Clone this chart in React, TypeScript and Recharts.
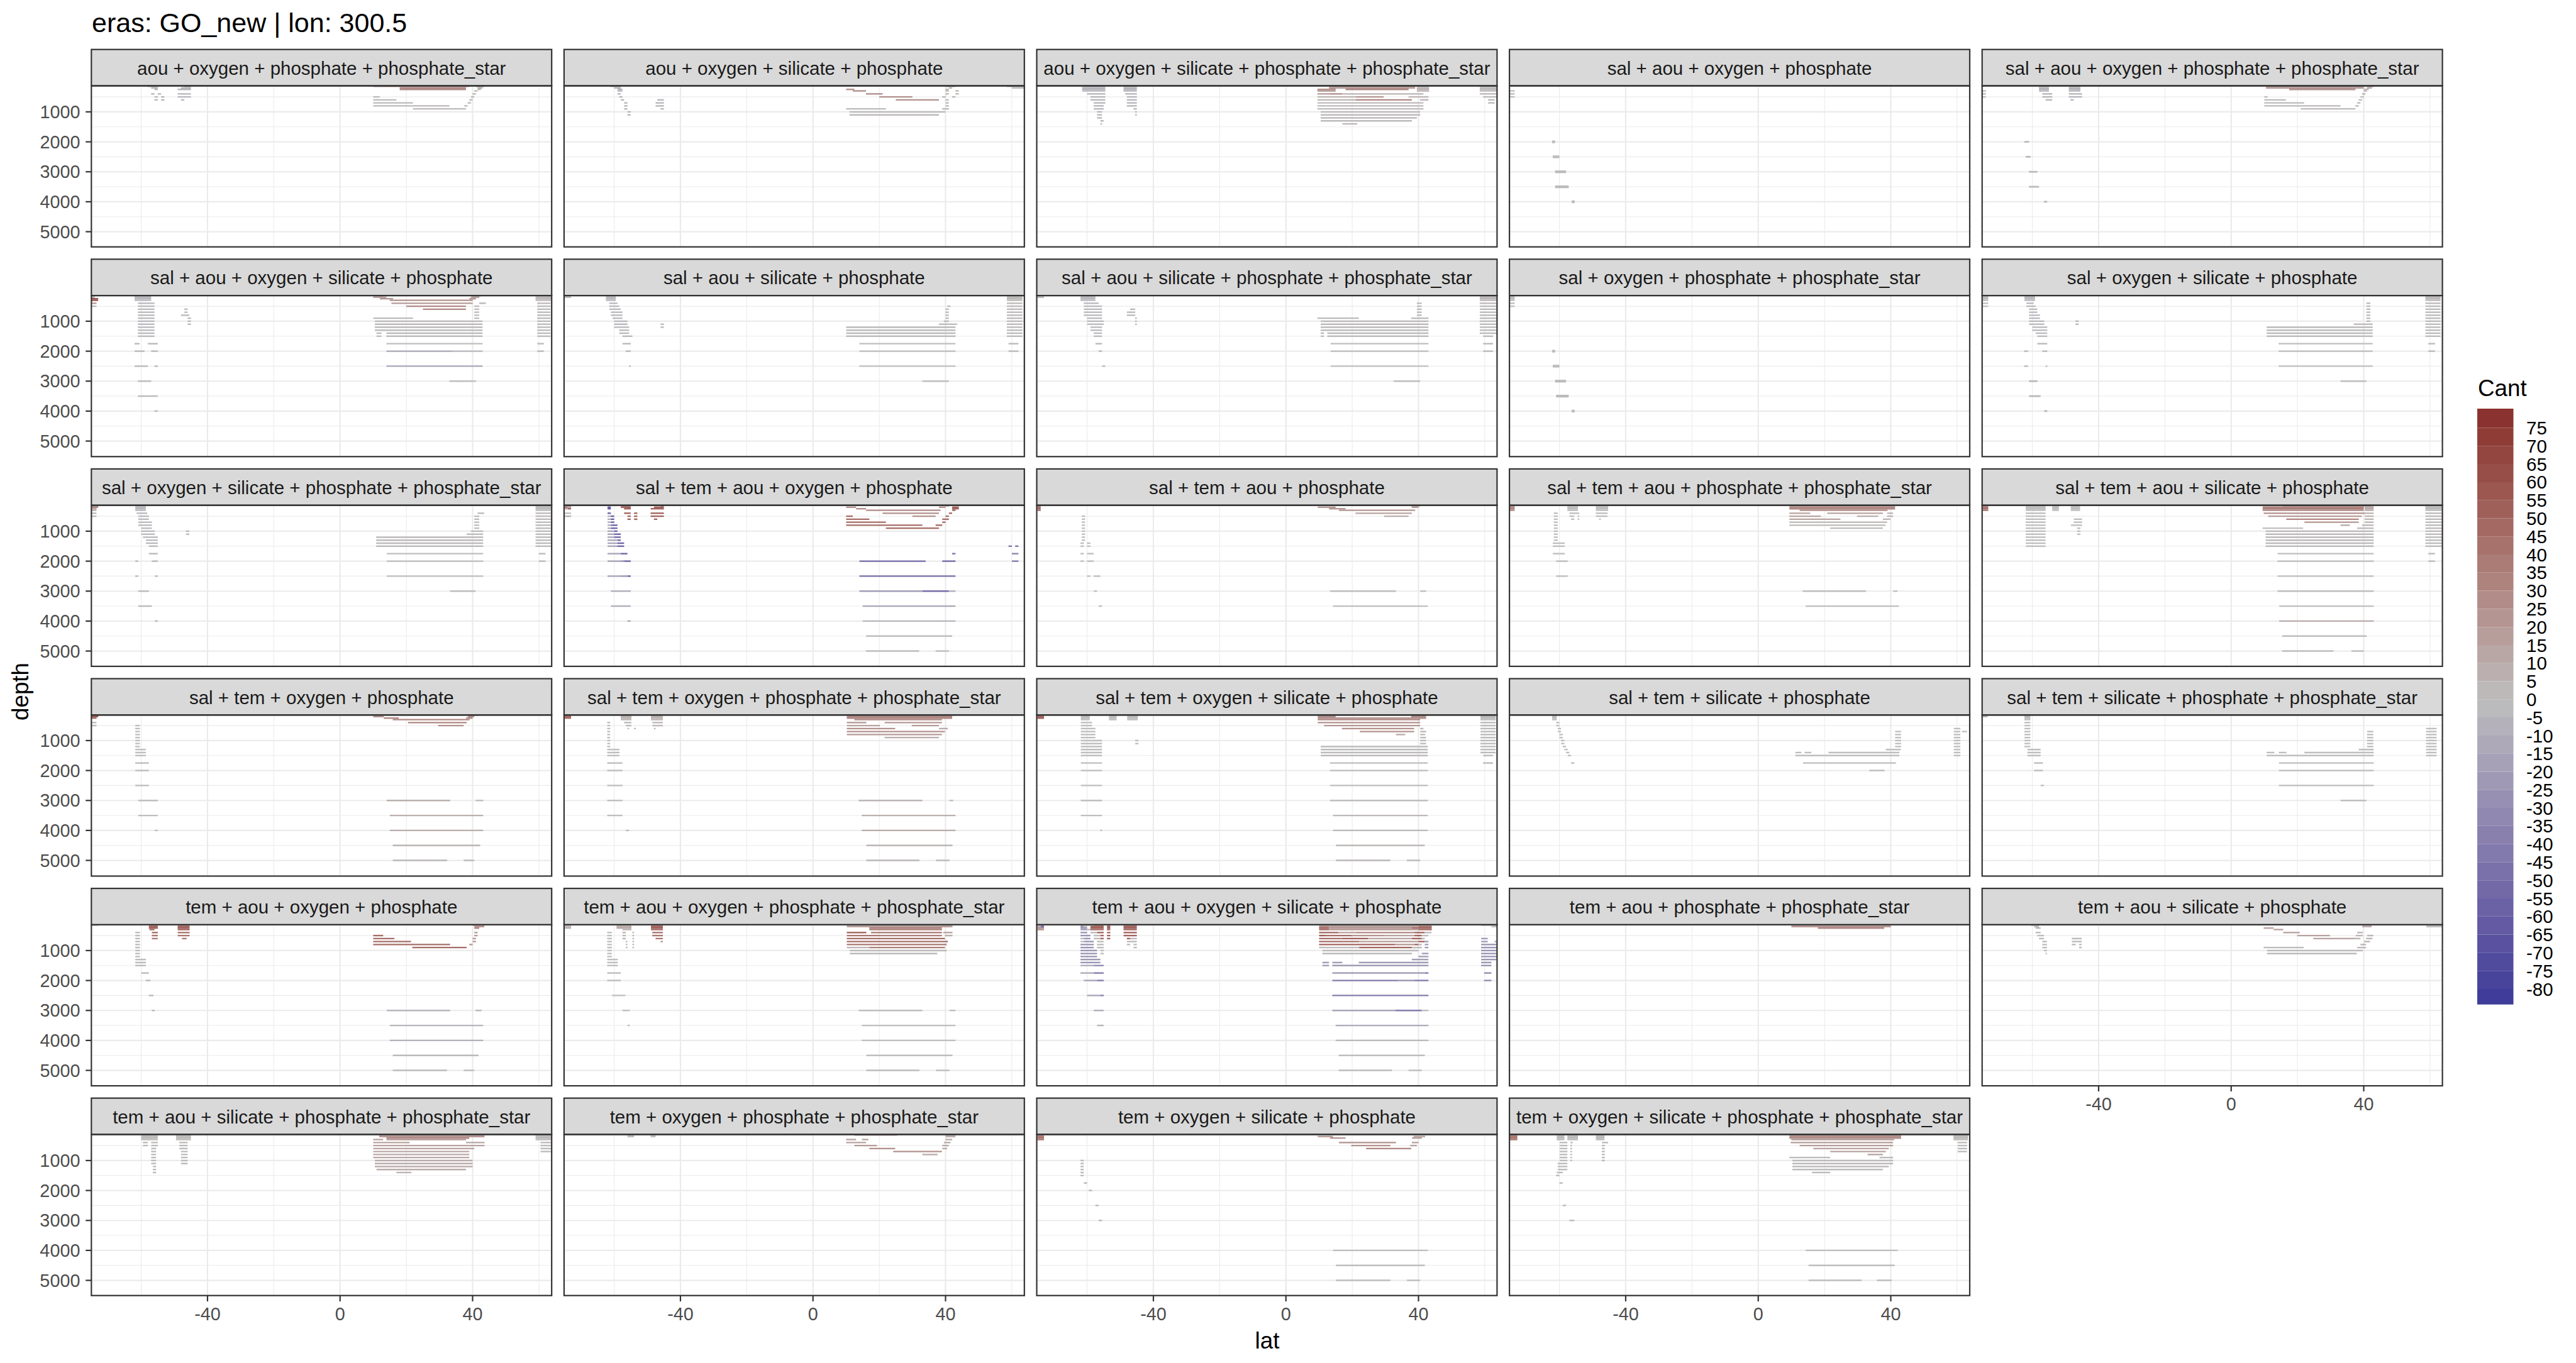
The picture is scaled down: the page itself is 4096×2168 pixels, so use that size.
import React from 'react';
import { ComposedChart, XAxis, YAxis, CartesianGrid, ReferenceArea, Scatter } from 'recharts';

// ---- axes / legend values ----
const FACETS = [
  'aou + oxygen + phosphate + phosphate_star',
  'aou + oxygen + silicate + phosphate',
  'aou + oxygen + silicate + phosphate + phosphate_star',
  'sal + aou + oxygen + phosphate',
  'sal + aou + oxygen + phosphate + phosphate_star',
  'sal + aou + oxygen + silicate + phosphate',
  'sal + aou + silicate + phosphate',
  'sal + aou + silicate + phosphate + phosphate_star',
  'sal + oxygen + phosphate + phosphate_star',
  'sal + oxygen + silicate + phosphate',
  'sal + oxygen + silicate + phosphate + phosphate_star',
  'sal + tem + aou + oxygen + phosphate',
  'sal + tem + aou + phosphate',
  'sal + tem + aou + phosphate + phosphate_star',
  'sal + tem + aou + silicate + phosphate',
  'sal + tem + oxygen + phosphate',
  'sal + tem + oxygen + phosphate + phosphate_star',
  'sal + tem + oxygen + silicate + phosphate',
  'sal + tem + silicate + phosphate',
  'sal + tem + silicate + phosphate + phosphate_star',
  'tem + aou + oxygen + phosphate',
  'tem + aou + oxygen + phosphate + phosphate_star',
  'tem + aou + oxygen + silicate + phosphate',
  'tem + aou + phosphate + phosphate_star',
  'tem + aou + silicate + phosphate',
  'tem + aou + silicate + phosphate + phosphate_star',
  'tem + oxygen + phosphate + phosphate_star',
  'tem + oxygen + silicate + phosphate',
  'tem + oxygen + silicate + phosphate + phosphate_star',
];

const LAT_DOMAIN = [-75.1, 63.8];
const LAT_TICKS = [-40, 0, 40];
const LAT_MINOR = [-60, -20, 20, 60];
const DEPTH_DOMAIN = [141, 5517];
const DEPTH_TICKS = [1000, 2000, 3000, 4000, 5000];
const DEPTH_MINOR = [500, 1500, 2500, 3500, 4500];
const CANT_LIMITS = [-84.3, 80.3];
const CANT_BREAKS = [75, 70, 65, 60, 55, 50, 45, 40, 35, 30, 25, 20, 15, 10, 5, 0, -5, -10, -15, -20, -25, -30, -35, -40, -45, -50, -55, -60, -65, -70, -75, -80];
const TILE_DEPTH = 50; // metres covered by one depth tile

// depth level groups
const UPPER = [150, 200, 250, 300];
const D400_1500 = [400, 500, 600, 700, 800, 900, 1000, 1100, 1200, 1300, 1400, 1500];
const D150_1500 = [...UPPER, ...D400_1500];
const D150_1400 = [...UPPER, 400, 500, 600, 700, 800, 900, 1000, 1100, 1200, 1300, 1400];

// ---- tiles per facet: [depth(s), lat from, lat to, Cant, tile depth?] ----
const p01 = [
  [150, -58, -55, -5], [150, -47, -45, -5], [200, -57, -55, -5], [200, -48, -45, -5],
  [250, -56, -55, -5], [250, -49, -45, -5],
  [400, -57, -56, -5], [400, -55, -54, -5], [400, -49, -45, -5],
  [[500, 600], -56, -55, -5], [[500, 600], -54, -53, -5], [500, -49, -45, -5], [600, -48, -47, -5],
  [150, 10, 13, 10], [150, 13, 39, 22], [[200, 250], 18, 38, 28],
  [150, 41, 43.5, 10], [200, 41.5, 43, 10], [250, 41.5, 42.5, 5], [300, 40.5, 41.5, 5], [400, 40, 41, 5],
  [500, 39.5, 40.5, 2], [600, 39, 40, 2], [700, 38.5, 39.5, 2], [800, 37.5, 38.5, 2],
  [500, 10, 12, 2], [600, 10, 17, 2], [700, 10, 22, 2], [800, 10, 33, 2], [900, 22, 38, 2],
];

const p02 = [
  [150, -61, -58, -5], [200, -60, -58, -5], [[250, 300], -59, -57.5, -5], [400, -59, -58, -5], [500, -58.5, -57.5, -5],
  [600, -58, -57, -5], [[700, 800, 900], -57, -56, -5], [[1000, 1100], -56, -55, -5],
  [600, -47, -45, -5], [[700, 800], -47.5, -45, -5], [900, -46, -45, -5],
  [250, 10, 12.5, 25], [300, 12, 16, 25], [400, 16, 21, 25], [500, 20, 30, 25], [600, 25, 38, 25],
  [150, 40, 43, 5], [200, 41, 42, 5], [250, 40, 41, 5], [[300, 400], 40, 41, 5], [[300, 400], 43, 44, 5],
  [500, 39, 40, 5], [500, 42, 43, 5], [[600, 700, 800], 40, 41, 2], [900, 39, 41, 2],
  [900, 10, 22, 2], [1000, 11, 40, 2], [1100, 11, 38, 2],
  [150, 58.5, 63.8, 2], [200, 60, 63.8, 2],
];

const p03 = [
  [UPPER, -61.5, -54.5, -5], [UPPER, -49, -45, -5],
  [400, -60, -54.5, -5], [400, -48.5, -45, -5], [[500, 600], -59, -54.5, -5], [[500, 600], -48, -45, -5],
  [700, -58, -54.5, -5], [[700, 800], -48, -45, -5], [[800, 900], -58, -55, -5], [900, -46, -45, -5],
  [[1000, 1100], -57, -55.5, -5], [[1000, 1100], -45.5, -45, -5], [1200, -57, -55.5, -5], [1300, -56, -55, -5], [1400, -56, -55.5, -5],
  [[150, 200], 13, 39, 22], [250, 9.5, 15, 25], [250, 18, 37, 30], [300, 9.5, 15, 25],
  [UPPER, 39.5, 43.2, 5],
  [400, 9.5, 13, 15], [400, 13, 17, 25], [400, 17, 41.5, 5],
  [500, 9.5, 21, 5], [500, 21, 29.5, 22], [500, 37, 43, 5],
  [600, 9.5, 21, 5], [600, 21, 38, 30], [600, 40.5, 43, 5],
  [[700, 800, 900], 9.5, 41.5, 2], [[1000, 1100], 10.5, 40.5, 2], [1200, 10.5, 39.5, 2], [1300, 10.5, 38, 2], [1400, 17, 21.5, 2],
  [[150, 200, 250, 300, 400], 58.5, 63.8, 2], [500, 59.5, 63.8, 2], [[600, 700], 61, 63, 2],
];

const p04 = [
  [[300, 400, 500], -75.1, -73.5, 0],
  [2000, -62.2, -61.3, -2, 90], [2500, -62, -60, -2, 90], [3000, -61.3, -58, -2, 90],
  [3500, -61.3, -57.2, -2, 90], [4000, -56.3, -55.4, -2, 90],
];

const p05 = [
  [[300, 400, 500], -75.1, -74, 0],
  [UPPER, -58, -55, -5], [UPPER, -49, -45.5, -5],
  [[400, 500], -57, -54, -5], [[400, 500], -49, -45, -5], [600, -56, -54, -5], [600, -48.5, -47.5, -5],
  [150, 10.5, 40, 20], [200, 10.5, 40, 22], [250, 17.5, 37.5, 25],
  [150, 41, 43, 10], [200, 41, 42.5, 10], [250, 40, 41.5, 5], [300, 40, 41, 5], [400, 39.5, 40.5, 5],
  [500, 39, 40, 2], [600, 38.5, 39.5, 2], [700, 38, 39, 2], [800, 37.5, 38.5, 2],
  [500, 10, 11, 2], [600, 10, 16.5, 2], [700, 10, 22, 2], [800, 10, 33, 2], [900, 21, 37.5, 2],
  [2000, -62.4, -61, -2, 60], [2500, -62, -60.5, -2, 60], [3000, -61, -58.5, -2, 60],
  [3500, -61, -58, -2, 60], [4000, -56.5, -55.5, -2, 60],
];

const p06 = [
  [[150, 200], -75, -74, 5], [[250, 300], -75.1, -73, 60], [400, -75, -73.5, 20], [500, -75, -73.5, 2],
  [UPPER, -62, -57, -3], [D400_1500, -61, -56, -3],
  [1750, -62, -60.5, -3], [1750, -58, -55, -3], [2000, -62, -59, -3], [2000, -57, -55, -3],
  [2500, -62, -58, -3], [2500, -56, -55, -3], [3000, -61, -57, -3], [3500, -61, -55, -3], [4000, -56, -55, -3],
  [[600, 700], -47, -46, -3], [800, -48, -45.5, -3], [[900, 1000, 1100], -46, -45, -3],
  [150, 10, 13, 10], [150, 40, 42.5, 10], [200, 10, 14, 15], [200, 39.5, 42, 15], [250, 12, 16, 20], [250, 39, 41, 20],
  [300, 15, 40, 25], [400, 15.5, 40, 20], [400, 42, 44, 5], [500, 20, 38, 30], [600, 25, 38, 30],
  [[500, 600, 700, 800, 900], 40.5, 42, 3],
  [900, 10, 22, 2], [[1000, 1100, 1200, 1300], 10.5, 43, 2], [[1400, 1500], 11, 12.5, 2], [[1400, 1500], 14, 43, 2],
  [1750, 14, 43, 0], [2000, 14, 34, -12], [2000, 34, 43, -3], [2500, 14, 43, -15], [3000, 33, 41, 0],
  [UPPER, 59, 63.8, 2], [D400_1500, 59.5, 63.5, 2], [[1750, 2000], 59.5, 61.5, 2],
];

const p07 = [
  [[150, 200], -75, -73, 2],
  [UPPER, -62.5, -59.5, -3], [400, -61.5, -59, -3], [500, -61.5, -58.5, -3], [600, -61.5, -58, -3],
  [[700, 800], -61, -57.5, -3], [900, -60.5, -57.5, -3], [[1000, 1100], -60, -56, -3], [1200, -60, -55.5, -3],
  [[1300, 1400], -58.5, -55.5, -3], [1500, -57.5, -54.5, -3], [1750, -57.5, -55, -3], [2000, -56.5, -55, -3], [2500, -55.5, -55, -3],
  [[1100, 1200], -46, -45, -3],
  [500, 40.5, 41.5, 2], [[600, 700, 800, 900], 40, 41, 2], [1000, 39.5, 41, 2], [1100, 38, 43.5, 2],
  [[1200, 1300, 1400, 1500], 10, 43, 2], [[1750, 2000, 2500], 14, 43, 0], [3000, 33, 41, 0],
  [D150_1500, 58.5, 63.2, 2], [[1750, 2000], 59, 62, 2],
];

const p08 = [
  [[150, 200], -75, -73, 2],
  [UPPER, -62, -57.5, -3], [400, -61, -56.5, -3], [[500, 600, 700, 800], -61, -55.5, -3],
  [900, -60, -55.5, -3], [[1000, 1100], -60, -55, -3], [[1200, 1300], -59, -55.5, -3], [[1400, 1500], -58, -55.5, -3],
  [1750, -57.5, -55.5, -3], [2000, -56.5, -55.5, -3], [2500, -55.5, -54.5, -3],
  [600, -47, -45.5, -3], [[700, 800], -48, -45.5, -3], [[900, 1000, 1100], -45.5, -45, -3],
  [[400, 500, 600, 700, 800], 39.5, 41, 2], [900, 9.5, 22, 2], [900, 37.8, 43, 2],
  [[1000, 1100, 1200, 1300], 10.5, 43, 2], [[1400, 1500], 10.5, 11.5, 2], [[1400, 1500], 12.5, 43, 2],
  [[1750, 2000, 2500], 13.5, 43, 0], [3000, 32.5, 40.5, 0],
  [D150_1400, 58.5, 63.8, 2], [[1500, 1750, 2000], 59.5, 62.5, 2],
];

const p09 = [
  [[150, 200, 250, 300, 400, 500], -75.1, -73.5, 0],
  [2000, -62.2, -61.3, -2, 90], [2500, -62, -60, -2, 90], [3000, -61.3, -58, -2, 90],
  [3500, -61, -57.2, -2, 90], [4000, -56.3, -55.4, -2, 90],
];

const p10 = [
  [[150, 200, 250, 300, 400, 500], -75, -73.3, 0],
  [UPPER, -62.4, -59.2, -3], [400, -61.8, -59.6, -3], [500, -61.8, -59, -3], [[600, 700], -61, -58.5, -3],
  [[800, 900], -61, -57.7, -3], [[1000, 1100], -61, -56.4, -3], [[1200, 1300], -60, -55.5, -3], [1400, -59, -55.5, -3],
  [[1500, 1750], -58.5, -55.5, -3], [[2000, 2500], -62.5, -61.3, -3], [2000, -57, -55.5, -3], [2500, -56, -55.5, -3],
  [3000, -61, -58.5, -3, 60], [3500, -61, -57.5, -3, 60], [4000, -56.4, -55.5, -3, 60],
  [[1000, 1100], -47, -46, -3],
  [[400, 500, 600, 700, 800, 900, 1000], 40.8, 42, 2], [1100, 37, 42.7, 2], [[1200, 1300, 1400, 1500], 10.7, 42.7, 2],
  [[1750, 2000, 2500], 14.3, 42.7, 0], [3000, 33, 40.8, 0],
  [D150_1500, 58.6, 63.2, 2], [[1750, 2000], 59.5, 61.5, 2],
];

const p11 = [
  [150, -75.1, -73, 45], [200, -75.1, -73, 30], [[250, 300], -75, -73.5, 10], [[400, 500], -75, -73.5, 2],
  [UPPER, -61.8, -58.6, -3], [400, -61.4, -58.2, -3], [[500, 600], -60.9, -57.7, -3], [[700, 800], -60.9, -56.8, -3],
  [900, -60, -56.8, -3], [[1000, 1100], -60, -55.9, -3], [1200, -59.5, -55, -3], [[1300, 1400], -58.6, -55, -3], [[1500, 1750], -57.7, -55, -3],
  [[2000, 2500], -61.8, -60.9, -3], [2000, -56.8, -55, -3], [2500, -55.9, -55, -3], [3000, -60.9, -57.7, -3],
  [3500, -60.9, -56.8, -3], [4000, -55.9, -55, -3],
  [[1000, 1100], -46.5, -45.5, -3],
  [400, 41.5, 43.5, 2], [[500, 600, 700, 800, 900], 40.5, 42, 2], [1000, 39.5, 43.2, 2], [1100, 38.2, 43.2, 2],
  [[1200, 1300, 1400, 1500], 10.9, 43.2, 2], [[1750, 2000, 2500], 14.1, 43.2, 0], [3000, 33.2, 40.9, 0],
  [D150_1500, 59, 63.8, 2], [[1750, 2000], 60, 62, 2],
];

const p12 = [
  [150, -75, -74, 15], [150, -74, -73, -60], [200, -75, -74, 40], [200, -74, -73, 10],
  [250, -75, -74, 10], [250, -74, -73, 50], [400, -75, -73, 0], [500, -75, -73, -10],
  [[200, 250, 400], -62, -61, -60],
  [[500, 600, 700, 800, 900], -62, -61, -10], [[500, 600, 700], -61, -60, -60], [[800, 900], -61, -59, -55],
  [[1000], -62, -60, -15], [1000, -60, -59, -55], [[1100, 1200], -62, -60, -15], [[1100, 1200], -60, -58, -55],
  [1300, -62, -59, -15], [1300, -59, -58, -55], [[1400, 1500], -62, -59, -15], [[1400, 1500], -59, -57, -55],
  [1750, -62, -58, -15], [1750, -58, -56, -55],
  [2000, -62, -58, -15], [2000, -58, -57, -30], [2000, -57, -55, -55],
  [2500, -62, -58, -15], [2500, -58, -56, -25], [2500, -56, -55, -55],
  [[3000, 3500], -61, -55, -10], [4000, -56, -55, -10],
  [[150, 200], -58, -55, 50], [250, -57, -55, 50],
  [400, -57, -55, 50], [[500, 600], -56, -55, 50], [[400, 500, 600], -54, -53, 50],
  [150, -46, -45, 50], [200, -48, -45, 50], [[250, 400, 500], -49, -45, 50], [600, -48, -47, 50],
  [150, 40, 41, 25], [200, 10, 13, 25], [200, 38, 40, 25], [[200, 250], 42, 44, 50],
  [250, 13, 16, 25], [300, 16, 38.5, 28], [300, 42, 43, 50],
  [400, 21, 38, 25], [400, 41, 42, 45], [500, 10, 12, 45], [500, 30, 37, 25], [500, 40, 41, 45],
  [600, 10, 17, 45], [600, 39, 41, 45], [700, 10, 22, 45], [700, 39, 40, 45], [800, 10, 33, 45], [800, 37, 39, 45],
  [900, 22, 38, 45],
  [1500, 59, 60, -45], [1500, 61, 62, -45], [1750, 42, 43, -45], [1750, 60, 62, -35],
  [2000, 14, 34, -50], [2000, 39, 43, -50], [2000, 60, 62, -40], [2500, 14, 43, -50],
  [3000, 14, 33, -20], [3000, 33, 41, -50], [3000, 41, 43, -10],
  [3500, 15, 43, -15], [4000, 15, 43, -5], [4500, 16, 42, 0], [5000, 16, 32, 0], [5000, 37, 41, 0],
];

const p13 = [
  [UPPER, -75, -74, 45],
  [[500, 600, 700, 800, 900, 1000, 1100, 1200, 1300], -61.6, -60.6, 0], [[1400, 1500, 1750, 2000], -62, -61, 0],
  [[1400, 1500], -60, -59, 0], [[1750, 2000], -60, -58, 0],
  [2500, -60, -59, 0], [2500, -58, -56, 0], [3000, -58, -57, 0], [3500, -56.5, -55.5, 0],
  [150, 37.8, 40.5, 20], [200, 9.6, 15, 20], [200, 38, 40, 20], [250, 13, 18, 22], [300, 16, 39, 22],
  [400, 21, 38, 15], [500, 29.6, 37, 10],
  [3000, 13.3, 33.2, 0], [3000, 40.5, 42.3, 0], [3500, 14.2, 42.8, 0],
];

const p14 = [
  [UPPER, -75, -73.5, 30],
  [UPPER, -57.6, -54.4, 0], [UPPER, -49, -45.3, 0],
  [400, -57, -54, 0], [400, -49, -45.5, 0], [500, -57, -55.5, 0], [500, -54.5, -54, 0], [500, -49, -45.5, 0],
  [600, -56.5, -55.5, 0], [600, -54.5, -54, 0], [600, -48, -47.5, 0],
  [[400, 500, 600, 700, 800, 900, 1000, 1100, 1200, 1300], -61.7, -60.5, 0], [[1400, 1500, 1750], -62, -58.4, 0],
  [[2000, 2500], -61, -57.5, 0],
  [150, 9.4, 41.3, 25], [200, 9.4, 41.3, 28], [250, 9.4, 41.3, 30], [300, 12.5, 39, 28],
  [400, 9.4, 15.7, 15], [400, 20.8, 37.6, 15], [400, 38.9, 40.7, 5],
  [500, 9.4, 18.9, 15], [500, 29.8, 36.2, 10], [500, 38.9, 40.7, 5],
  [600, 9.4, 24.8, 15], [600, 37.6, 39.9, 5],
  [700, 9.4, 38.9, 5], [800, 9.4, 38.4, 3], [900, 21.7, 37.6, 2],
  [3000, 13.4, 32.5, 0], [3000, 40.7, 42, 0], [3500, 14.3, 42.4, 0],
];

const p15 = [
  [UPPER, -75, -73.3, 40],
  [D150_1500, -62, -56, 0], [UPPER, -54, -52, 0], [UPPER, -48.4, -45.6, 0],
  [[600, 700], -47.5, -45, 0], [800, -48.4, -45, 0], [[900, 1000, 1100], -46.5, -45.5, 0],
  [150, 15.5, 42, 30], [200, 9.5, 40, 32], [250, 9.5, 40, 35], [300, 9.5, 40, 30], [UPPER, 40.3, 43, 10],
  [400, 9.8, 40.3, 25], [500, 11.2, 39.4, 20], [600, 16.6, 38.5, 30], [700, 22.1, 38.5, 22],
  [[400, 500, 600, 700], 40.3, 43, 5],
  [800, 33, 35.8, 10], [800, 39.5, 43, 5], [900, 9.5, 21.7, 0], [900, 38, 43, 2],
  [[1000, 1100, 1200, 1300, 1400, 1500], 10.4, 43, 2], [[1750, 2000, 2500, 3000], 14, 43, 0], [3500, 14.5, 43, 0],
  [4000, 14.5, 43, 8], [4500, 15.4, 40.9, 0], [5000, 15.4, 30.9, 0], [5000, 36.3, 40, 0],
  [D150_1500, 58.6, 63.8, 2], [[1750, 2000], 59.5, 61.5, 2],
];

const p16 = [
  [150, -75.1, -72.7, 60], [200, -75.1, -73, 55], [250, -75, -73.5, 40], [[400, 500], -75, -73.5, 2],
  [[500, 600, 700, 800, 900, 1000, 1100, 1200], -61.8, -60.4, 0], [[1300, 1400, 1500], -61.8, -58.6, 0],
  [[1750, 2000, 2500], -61.8, -57.7, 0], [[3000, 3500], -60.9, -55, 0], [4000, -55.9, -55, 0],
  [150, 39, 41.5, 25], [200, 10, 13.2, 25], [200, 38.5, 40.5, 25], [250, 13.2, 17.7, 30], [250, 38, 40, 25],
  [300, 15.9, 39.1, 30], [400, 20.5, 38.2, 30], [500, 29.6, 37.3, 25],
  [3000, 14.1, 33.2, 8], [3000, 40.9, 43.2, 0], [[3500, 4000], 15, 43.2, 8], [4500, 15.9, 42.3, 5],
  [5000, 15.9, 32.3, 3], [5000, 37.3, 40.5, 3],
];

const p17 = [
  [[150, 200, 250], -75, -73, 45],
  [UPPER, -58, -54.8, 5], [UPPER, -48.9, -45.3, 5],
  [400, -57, -54.8, 3], [400, -48.5, -45.3, 3], [500, -56.5, -54.8, 3], [500, -48.5, -45.3, 3],
  [600, -56, -55.5, 3], [600, -54, -53.5, 3], [600, -48, -47.5, 3],
  [[400, 500, 600, 700, 800, 900, 1000, 1100, 1200], -62.1, -61.2, 0], [[1300, 1400, 1500], -62.1, -58.4, 0],
  [[1750, 2000, 2500, 3000, 3500], -62.1, -57.5, 0], [4000, -56.5, -55.5, 0],
  [150, 10.2, 43, 20], [200, 10.2, 42, 28], [250, 10.2, 42, 30], [300, 12.5, 38.9, 30],
  [400, 10.2, 16.1, 20], [400, 21.6, 38.9, 20], [500, 10.2, 20.2, 15], [500, 29.8, 38, 20],
  [600, 10.2, 24.8, 25], [600, 38, 40.7, 10], [700, 10.2, 39.8, 25], [800, 10.2, 38.9, 20], [900, 21.6, 38, 10],
  [3000, 13.8, 33, 5], [3000, 41.2, 42.3, 0], [3500, 14.7, 43, 8], [4000, 14.7, 43, 10], [4500, 16.1, 42.1, 5],
  [5000, 16.1, 32.1, 3], [5000, 37.1, 41.2, 3],
];

const p18 = [
  [[150, 200, 250], -75, -73, 50],
  [UPPER, -61.9, -59.2, 0], [UPPER, -53.4, -51.1, 0], [UPPER, -47.9, -44.7, 0],
  [[400, 500], -61.9, -58.5, 0], [[600, 700, 800, 900], -61.9, -57.5, 0],
  [[1000, 1100, 1200, 1300, 1400, 1500, 1750, 2000, 2500, 3000, 3500], -61.9, -55.5, 0],
  [[1000, 1100], -45.5, -44.5, 0], [4000, -56, -55.5, 0],
  [[150, 200], 9.6, 15, 25], [[150, 200], 37.8, 42.3, 25], [250, 9.6, 42.3, 25], [300, 9.6, 40.5, 30], [400, 9.6, 40.5, 25],
  [500, 11.5, 40.5, 22], [600, 16.9, 38.7, 25], [600, 40.5, 41.5, 5], [700, 22.3, 38.7, 25], [700, 40.5, 42.3, 5],
  [800, 33.2, 36, 10], [800, 40.5, 42, 5], [[900, 1000, 1100], 40.5, 42.3, 2],
  [[1200, 1300, 1400, 1500], 10.5, 42.8, 2], [[1750, 2000, 2500, 3000], 13.3, 42.8, 0], [[3500, 4000], 14.2, 42.8, 3],
  [4500, 15.1, 41.9, 3], [5000, 15.1, 31.5, 3], [5000, 36.5, 40.5, 3],
  [D150_1400, 58.7, 63.3, 2], [[1500, 1750], 59.5, 62.5, 2],
];

const p19 = [
  [UPPER, -62.2, -60.8, 0], [[400, 500], -61, -60, 0], [[600, 700], -60.5, -59.5, 0], [[800, 900], -60, -59, 0],
  [[1000, 1100], -59.5, -58.5, 0], [1200, -59, -58, 0], [1300, -58.5, -57.5, 0], [1400, -58, -57, 0],
  [1500, -57.5, -56.5, 0], [1750, -56.5, -55.5, 0],
  [[600, 700, 800, 900, 1000, 1100, 1200, 1300, 1400, 1500], 59, 61, 0], [700, 61.5, 63, 0],
  [[700, 800, 900, 1000, 1100, 1200], 41.3, 43.1, 0], [1300, 38.5, 43, 0],
  [1400, 11.2, 13, 0], [1400, 14, 16, 0], [1400, 21.2, 42.6, 0], [1500, 11.2, 42.6, 0],
  [1750, 13.5, 41.6, 0], [2000, 33.5, 38.1, 0],
];

const p20 = [
  [[150, 200], -75, -73.5, 5],
  [[...UPPER, 400, 500, 600, 700, 800, 900, 1000, 1100, 1200], -62.4, -60.6, 0], [[1300, 1400, 1500], -61.5, -57.5, 0],
  [[1750, 2000], -59.5, -56.8, 0], [2500, -57.5, -56.5, 0],
  [[600, 700, 800, 900, 1000, 1100, 1200, 1300, 1400, 1500], 58.8, 62, 0], [[700, 800, 900, 1000, 1100, 1200], 41, 42.9, 0],
  [1300, 38.5, 43, 0], [1400, 10.7, 13, 0], [1400, 14.4, 16.7, 0], [1400, 22.1, 43, 0], [1500, 10.7, 43, 0],
  [[1750, 2000, 2500], 14.4, 43, 0], [3000, 33, 40.8, 0],
];

const p21 = [
  [150, -75, -73, 5],
  [[150, 200, 250], -57.7, -55, 50], [[150, 200, 250], -49, -45.4, 50], [300, -57.5, -56, 45], [300, -49, -45.4, 50],
  [400, -56.8, -55, 45], [400, -49, -45.4, 45], [500, -56.8, -55, 40], [500, -49, -45.4, 40],
  [600, -56.8, -55, 35], [600, -47.7, -46.3, 35],
  [[400, 500, 600, 700, 800, 900, 1000, 1100, 1200], -61.8, -60.4, 2], [[1300, 1400, 1500], -61.8, -58.6, 2],
  [1750, -60, -57.7, 2], [2000, -58.6, -57.2, 2], [2500, -57.7, -56.3, 2], [3000, -56.8, -55.9, 2],
  [150, 40, 43.6, 25], [200, 40.5, 43.5, 25], [250, 40.5, 42, 25], [[400, 500], 40.5, 41.5, 20], [[600, 700], 40, 41, 20],
  [800, 39, 40, 20],
  [500, 10, 13, 45], [600, 10, 16.4, 45], [700, 10, 21.4, 45], [800, 10, 33.2, 45], [900, 21.8, 38.2, 45],
  [3000, 14.1, 33.2, -5], [3000, 40.9, 42.7, -5], [3500, 15, 43.2, -5], [4000, 15, 43.2, -8], [4500, 15.9, 41.8, -3],
  [5000, 15.9, 32.3, 0], [5000, 37.3, 40.5, 0],
];

const p22 = [
  [[150, 200, 250], -75, -73, 5],
  [[150, 200, 250], -59.3, -54.8, 10], [[150, 200, 250], -48.9, -45.3, 50], [300, -57.5, -54.8, 5], [300, -48.9, -45.3, 45],
  [[400, 500, 600], -57.5, -56.5, 5], [[400, 500, 600], -54.5, -54, 5], [[400, 500], -48.5, -45.3, 40], [600, -47.5, -45.3, 40],
  [[700, 800, 900], -56.5, -56, 3], [[700, 800, 900], -54.5, -54, 3], [700, -46, -45.3, 20],
  [[400, 500, 600, 700, 800, 900, 1000, 1100, 1200], -62.1, -60.7, 0], [[1300, 1400, 1500], -62.1, -58.9, 0],
  [[1750, 2000], -62.1, -58, 0], [2500, -60.7, -56.6, 0], [3000, -57.5, -55.3, 0], [3500, -56, -55.3, 0],
  [150, 10.2, 42.1, 15], [200, 10.2, 42.1, 20], [250, 17, 38.9, 32], [300, 17, 38.9, 35],
  [400, 10.2, 16.1, 50], [400, 17.5, 38.9, 40], [400, 39.3, 42.1, 15],
  [500, 10.2, 20.2, 40], [500, 20.2, 38.9, 35], [500, 39.8, 42.1, 10],
  [600, 10.2, 39.8, 45], [700, 10.2, 40.7, 45], [800, 10.2, 40.3, 40], [900, 10.2, 17, 5], [900, 17, 39.8, 35],
  [1000, 11.1, 40.3, 2], [1100, 11.1, 37.5, 2],
  [3000, 13.8, 33, 0], [3000, 41.2, 43, 0], [[3500, 4000], 14.7, 43, 0], [4500, 16.1, 42.1, 0],
  [5000, 16.1, 32.1, 0], [5000, 37.1, 41.2, 0],
];

const p23 = [
  [150, -75, -74, 10], [150, -74, -73, -55], [200, -75, -74, 10], [200, -74, -73, -50], [[250, 300], -75, -73, 25],
  [[150, 200], -62, -61, -25], [150, -61, -58, 2], [200, -61, -60, 2], [[250, 300], -62, -60, -20], [300, -60, -59, 2],
  [150, -58, -55, 50], [[200, 250], -59, -55, 50], [300, -59, -55, 45], [[150, 200, 250, 300, 400, 500, 600], -54, -53, 50],
  [[150, 200, 250, 300, 400, 500], -49, -45, 50],
  [400, -62, -60, -25], [400, -59, -57, 2], [400, -57, -55, 50],
  [500, -62, -59, -25], [500, -58, -56, 2], [500, -56, -55, 50],
  [600, -62, -61, 0], [600, -61, -59, -25], [600, -58, -56, 2], [600, -56, -55, 50], [600, -48, -47, 50], [600, -47, -45, 2],
  [700, -62, -61, 0], [700, -61, -58, -25], [700, -57, -55, 2], [700, -48, -45, 2],
  [[800, 900], -62, -58, -25], [[800, 900], -57, -55, 2], [800, -48, -47, 2], [[800, 900], -46, -45, 2],
  [[1000, 1100, 1200], -62, -57, -25], [[1000, 1100], -56, -55, 2], [[1300, 1400], -62, -56, -25],
  [1500, -62, -58, -10], [1500, -58, -55, -30], [1750, -62, -58, -10], [1750, -58, -55, -40],
  [2000, -61, -57, -15], [2000, -57, -55, -40], [2500, -60, -56, -15], [2500, -56, -55, -40],
  [3000, -58, -55, -10], [3500, -57, -55, -5],
  [150, 10, 13, 15], [150, 13, 38, 20], [150, 38, 44, 25],
  [200, 10, 13, 30], [200, 13, 40, 18], [200, 40, 44, 45],
  [250, 10, 13, 45], [250, 13, 38, 20], [250, 38, 44, 45],
  [300, 10, 13, 45], [300, 13, 40, 22], [300, 40, 44, 45],
  [400, 10, 15.9, 45], [400, 15.9, 21, 15], [400, 21, 38.8, 30], [400, 38.8, 41.9, 50], [400, 41.9, 43.9, 2],
  [500, 10, 12, 55], [500, 12, 19.9, 45], [500, 19.9, 29.9, 25], [500, 29.9, 38.8, 15], [500, 38.8, 41, 50], [500, 41, 43, 2],
  [600, 10, 16.9, 45], [600, 16.9, 24.8, 55], [600, 24.8, 38, 15], [600, 38, 41, 50], [600, 41, 41.9, 2],
  [700, 10, 22.1, 45], [700, 22.1, 40, 20], [700, 40, 41.9, 50], [700, 41.9, 43, -20],
  [800, 10, 33, 50], [800, 33, 38.8, 20], [800, 38.8, 40, 50], [800, 40, 41, 2], [800, 41.9, 43, -20],
  [900, 10, 22.1, 2], [900, 22.1, 38, 50], [900, 38, 41, 2], [900, 41.9, 43, -20],
  [1000, 11, 40, 2], [1100, 11, 38, 2], [1100, 41, 43, -20], [1200, 40, 43, -20], [1300, 38, 43, -20],
  [1400, 11, 13, -20], [1400, 14, 17, -20], [1400, 22, 43, -20], [1500, 11, 13, -20], [1500, 14, 43, -20],
  [1750, 14, 41.9, -25], [1750, 41.9, 43, -40],
  [2000, 14, 33.9, -40], [2000, 33.9, 38.8, -25], [2000, 38.8, 43, -40], [2500, 14, 43, -40],
  [3000, 14, 33, -15], [3000, 33, 41, -40], [3000, 41, 43, 0],
  [3500, 15, 43, -12], [4000, 15, 43, -3], [4500, 15.9, 41.9, 0], [5000, 15.9, 32, 0], [5000, 37, 41, 0],
  [150, 58.9, 63.8, 2], [200, 62, 63.8, 2], [600, 58.9, 60.9, -20], [700, 58.9, 60.9, -20], [700, 63, 63.8, -20],
  [[800, 900, 1000, 1100, 1200, 1300], 58.9, 63.8, -25], [[1400, 1500], 58.9, 62, -25], [[1750, 2000], 59.8, 62, -30],
];

const p24 = [
  [150, 10, 40, 20], [200, 10, 40, 25], [250, 18, 38, 28],
];

const p25 = [
  [150, -60.5, -58, 2], [200, -59.5, -58, 2], [[250, 400], -59, -57.5, 2], [500, -58.5, -56.5, 2], [600, -58, -56.5, 2],
  [[700, 800, 900], -57, -55.6, 2], [1000, -56.5, -55.6, 2], [1100, -56, -55.6, 2],
  [[600, 700], -48.1, -45.1, 2], [800, -48.1, -46.9, 2], [[800, 900], -45.9, -45.1, 2],
  [[150, 200], 39.5, 42.4, 10], [150, 58.9, 63.8, 2], [[200], 58.9, 63.8, 2],
  [250, 9.8, 12.8, 15], [300, 12.8, 15.7, 15], [400, 15.7, 20.7, 15], [400, 38, 39.7, 5],
  [500, 19.9, 29.8, 15], [500, 37.6, 39.7, 5], [500, 41, 42.9, 5],
  [600, 24.8, 37.9, 15], [600, 37.1, 39, 5], [600, 40.7, 42.6, 5],
  [700, 40.1, 41.9, 5], [800, 39, 40.7, 5], [900, 9.8, 21.9, 2], [900, 38, 40.7, 2],
  [1000, 10.8, 39.7, 2], [1100, 10.8, 37.9, 2],
];

const p26 = [
  [UPPER, -60, -55, 2], [UPPER, -49.5, -45, 2],
  [[400, 500], -59.5, -58, 2], [[400, 500], -57, -55, 2], [[400, 500, 600], -48.5, -46, 2], [600, -57, -55.5, 2],
  [[700, 800, 900, 1000, 1100], -57, -55.5, 2], [[700, 800, 900, 1000, 1100], -48, -46, 2], [[1200, 1300, 1400], -56.5, -55.5, 2],
  [150, 11.8, 43.6, 20], [200, 11.8, 43.6, 25], [250, 14, 39, 28], [300, 10, 13, 15], [300, 14, 38, 20],
  [400, 10, 21, 15], [400, 38, 43.6, 10], [500, 10, 43.6, 15], [600, 10, 40.5, 15],
  [[700, 800, 900], 10, 39, 12], [[1000, 1100, 1200], 10.5, 40, 10], [1300, 11, 38, 10], [1400, 17, 21.5, 5],
  [UPPER, 59, 63.8, 2], [[400, 500, 600, 700], 60.5, 63.8, 2],
];

const p27 = [
  [[150, 200], -56, -54, 2], [[150, 200], -49, -47.5, 2],
  [150, 12.5, 25.4, 15], [[150, 200], 40, 43, 10],
  [300, 10, 13, 15], [300, 14.8, 16.7, 15], [300, 40, 42, 10],
  [400, 10, 16, 15], [400, 39.5, 41.5, 10], [500, 12.5, 19.3, 20], [500, 39, 41, 10],
  [600, 17, 24.8, 25], [600, 39, 40.5, 10], [700, 24.2, 38.9, 25], [800, 33, 37.6, 10],
];

const p28 = [
  [UPPER, -75, -73, 40],
  [200, 9.6, 14.2, 20], [200, 38.5, 42, 15], [250, 13.3, 18, 20], [250, 38, 41, 15],
  [400, 16, 33.2, 25], [400, 38, 40, 15], [500, 19.7, 31.5, 25], [500, 37.5, 39.5, 15], [600, 24.2, 37.8, 30],
  [[1000, 1100, 1200, 1300, 1400, 1500], -62, -61, 2], [1750, -61, -60, 2], [2000, -59.5, -58.5, 2],
  [2500, -57.5, -56.5, 2], [3000, -56.5, -55.5, 2],
  [4000, 14.2, 42.8, 0], [4500, 15.1, 41.9, 0], [5000, 15.1, 31.5, 0], [5000, 36.5, 40.5, 0],
];

const p29 = [
  [UPPER, -75.1, -72.7, 40],
  [UPPER, -60.8, -58.5, 2], [UPPER, -57.6, -54.4, 2], [UPPER, -49, -46.4, 2],
  [400, -59.9, -57.6, 2], [400, -56.7, -56, 2], [400, -47.2, -45.3, 2],
  [[500, 600, 700, 800, 900, 1000], -59.9, -57.6, 2], [[500, 600, 700, 800, 900, 1000], -56.7, -56.2, 2],
  [[500, 600, 700, 800, 900, 1000], -47.2, -46.3, 2], [[1100, 1200, 1300], -60.5, -57.6, 2], [1400, -60.8, -59, 2],
  [1500, -61, -60, 2], [1750, -60, -59, 2], [2500, -59, -58, 2], [3000, -57, -55.5, 2],
  [150, 9.4, 43.1, 25], [200, 9.4, 43.1, 28], [250, 9.4, 43.1, 25], [300, 10, 41, 20],
  [400, 9.8, 40.7, 18], [500, 12.5, 40.7, 18], [600, 16.6, 39.4, 15], [700, 21.7, 38.5, 15], [800, 33, 37.6, 15],
  [900, 9.4, 21.7, 2], [900, 36.6, 40.7, 2], [[1000, 1100], 10.3, 40.7, 2], [1200, 10.3, 39.4, 2],
  [1300, 10.3, 37.6, 2], [1400, 16.2, 21.7, 2],
  [UPPER, 58.9, 63.3, 2], [[400, 500, 600, 700], 60.2, 63, 2],
  [4000, 14.3, 42.1, 0], [4500, 15.2, 41.2, 0], [5000, 15.2, 31.2, 0], [5000, 35.8, 40.3, 0],
];

const PANEL_SEGS = [
  p01, p02, p03, p04, p05, p06, p07, p08, p09, p10,
  p11, p12, p13, p14, p15, p16, p17, p18, p19, p20,
  p21, p22, p23, p24, p25, p26, p27, p28, p29,
];

// ---- look ----
const FONT = '"Liberation Sans", Arial, Helvetica, sans-serif';
const PANEL_W = 731.9;
const PANEL_H = 256.2;
const STRIP_H = 57.8;
const COL_X0 = 145.3;
const COL_STEP = 751.6;
const ROW_Y0 = 78.7;
const ROW_STEP = 333.6;
const Y_AXIS_W = 110;
const X_AXIS_H = 60;
const LINE_W = 2.2;
const GRID = '#EBEBEB';
const DARK = '#333333';

const colX = (c: number) => COL_X0 + COL_STEP * c;
const rowY = (r: number) => ROW_Y0 + ROW_STEP * r;

// ---- colour scale (diverging, interpolated in CIELAB like ggplot) ----
const LOW_RGB = [58, 58, 152];
const MID_RGB = [190, 190, 190];
const HIGH_RGB = [131, 36, 36];

const toLin = (c: number) => { const v = c / 255; return v <= 0.04045 ? v / 12.92 : Math.pow((v + 0.055) / 1.055, 2.4); };
const fromLin = (c: number) => {
  const v = c <= 0.0031308 ? 12.92 * c : 1.055 * Math.pow(c, 1 / 2.4) - 0.055;
  return Math.round(Math.max(0, Math.min(1, v)) * 255);
};
function rgbToLab([r, g, b]: number[]) {
  const R = toLin(r), G = toLin(g), B = toLin(b);
  const X = (0.4124 * R + 0.3576 * G + 0.1805 * B) / 0.95047;
  const Y = 0.2126 * R + 0.7152 * G + 0.0722 * B;
  const Z = (0.0193 * R + 0.1192 * G + 0.9505 * B) / 1.08883;
  const f = (t: number) => (t > 0.008856 ? Math.cbrt(t) : 7.787 * t + 16 / 116);
  const fx = f(X), fy = f(Y), fz = f(Z);
  return [116 * fy - 16, 500 * (fx - fy), 200 * (fy - fz)];
}
function labToCss([L, a, bb]: number[]) {
  const fy = (L + 16) / 116, fx = fy + a / 500, fz = fy - bb / 200;
  const inv = (t: number) => (t * t * t > 0.008856 ? t * t * t : (t - 16 / 116) / 7.787);
  const X = inv(fx) * 0.95047, Y = inv(fy), Z = inv(fz) * 1.08883;
  const R = 3.2406 * X - 1.5372 * Y - 0.4986 * Z;
  const G = -0.9689 * X + 1.8758 * Y + 0.0415 * Z;
  const B = 0.0557 * X - 0.204 * Y + 1.057 * Z;
  return `rgb(${fromLin(R)},${fromLin(G)},${fromLin(B)})`;
}
const LAB_LOW = rgbToLab(LOW_RGB), LAB_MID = rgbToLab(MID_RGB), LAB_HIGH = rgbToLab(HIGH_RGB);
const CANT_MAXABS = Math.max(Math.abs(CANT_LIMITS[0]), Math.abs(CANT_LIMITS[1]));

function cantColor(v: number) {
  const t = Math.max(-1, Math.min(1, v / CANT_MAXABS));
  const end = t >= 0 ? LAB_HIGH : LAB_LOW;
  const k = Math.abs(t);
  return labToCss(LAB_MID.map((m, i) => m + (end[i] - m) * k));
}

const clamp = (v: number, lo: number, hi: number) => Math.max(lo, Math.min(hi, v));

function expand(segs: any[]) {
  const out: any[] = [];
  segs.forEach(([d, a, b, v, h]) => {
    (Array.isArray(d) ? d : [d]).forEach((depth: number) => {
      const hh = h ?? TILE_DEPTH;
      out.push({
        depth,
        lat: (a + b) / 2,
        x1: clamp(a, LAT_DOMAIN[0], LAT_DOMAIN[1]),
        x2: clamp(b, LAT_DOMAIN[0], LAT_DOMAIN[1]),
        y1: clamp(depth - hh / 2, DEPTH_DOMAIN[0], DEPTH_DOMAIN[1]),
        y2: clamp(depth + hh / 2, DEPTH_DOMAIN[0], DEPTH_DOMAIN[1]),
        fill: cantColor(v),
      });
    });
  });
  return out;
}

const tickText = { fill: '#4D4D4D', fontSize: 28.8, fontFamily: FONT };
const tickLineStyle = { stroke: DARK, strokeWidth: LINE_W };
const noShape = () => <g />;

function Panel({ idx, segs }: { idx: number; segs: any[] }) {
  const col = idx % 5;
  const row = Math.floor(idx / 5);
  const showY = col === 0;
  const showX = row === 5 || idx === 24;
  const yW = showY ? Y_AXIS_W : 0;
  const xH = showX ? X_AXIS_H : 0;
  const tiles = expand(segs);
  return (
    <div style={{ position: 'absolute', left: colX(col) - yW, top: rowY(row) + STRIP_H }}>
      <ComposedChart width={PANEL_W + yW} height={PANEL_H + xH} margin={{ top: 0, right: 0, bottom: 0, left: 0 }}>
        <CartesianGrid stroke={GRID} strokeWidth={LINE_W / 2} horizontalValues={DEPTH_MINOR} verticalValues={LAT_MINOR} />
        <CartesianGrid stroke={GRID} strokeWidth={LINE_W} horizontalValues={DEPTH_TICKS} verticalValues={LAT_TICKS} />
        <XAxis type="number" dataKey="lat" domain={LAT_DOMAIN} ticks={LAT_TICKS} allowDataOverflow hide={!showX}
          height={xH} axisLine={false} tickLine={tickLineStyle} tickSize={8.8} tickMargin={9.3} tick={tickText} interval={0} />
        <YAxis type="number" dataKey="depth" domain={DEPTH_DOMAIN} ticks={DEPTH_TICKS} reversed allowDataOverflow hide={!showY}
          width={yW} axisLine={false} tickLine={tickLineStyle} tickSize={8.8} tickMargin={8.8} tick={tickText} interval={0} />
        {tiles.map((t, i) => (
          <ReferenceArea key={i} x1={t.x1} x2={t.x2} y1={t.y1} y2={t.y2} fill={t.fill} fillOpacity={1} stroke="none" ifOverflow="visible" />
        ))}
        <Scatter data={tiles} dataKey="depth" shape={noShape} isAnimationActive={false} />
      </ComposedChart>
    </div>
  );
}

// legend colour bar
const BAR_X = 3939;
const BAR_TOP = 650;
const BAR_W = 57.5;
const BAR_H = 947.7;
const LEG_AXIS_W = 100;
const LEG_LABEL_GAP = 20.5;

// labels drawn at each break through the bar's own y scale
const BreakLabel = (props: any) => {
  const { cx, cy, payload } = props;
  if (cx == null || cy == null) return <g />;
  return (
    <text x={cx + LEG_LABEL_GAP} y={cy} dy="0.36em" fontSize={29.5} fontFamily={FONT} fill="#000000">
      {String(payload.v)}
    </text>
  );
};

function Legend() {
  const edges = [CANT_LIMITS[1], ...CANT_BREAKS, CANT_LIMITS[0]];
  const bands = edges.slice(0, -1).map((hi, i) => ({ hi, lo: edges[i + 1], fill: cantColor((hi + edges[i + 1]) / 2) }));
  const pts = CANT_BREAKS.map((v) => ({ x: 1, v }));
  return (
    <div style={{ position: 'absolute', left: BAR_X, top: BAR_TOP }}>
      <ComposedChart width={BAR_W + LEG_AXIS_W} height={BAR_H} margin={{ top: 0, right: 0, bottom: 0, left: 0 }}>
        <XAxis type="number" dataKey="x" domain={[0, 1]} hide />
        <YAxis type="number" dataKey="v" orientation="right" domain={CANT_LIMITS} width={LEG_AXIS_W}
          axisLine={false} tickLine={false} tick={false} />
        {bands.map((b, i) => (
          <ReferenceArea key={i} x1={0} x2={1} y1={b.lo} y2={b.hi} fill={b.fill} fillOpacity={1} stroke="none" ifOverflow="visible" />
        ))}
        <Scatter data={pts} dataKey="v" shape={BreakLabel} isAnimationActive={false} />
      </ComposedChart>
    </div>
  );
}

export default function App() {
  return (
    <div style={{ position: 'absolute', left: 0, top: 0, width: 4096, height: 2168, background: '#ffffff', overflow: 'hidden', fontFamily: FONT }}>
      {PANEL_SEGS.map((segs, i) => <Panel key={i} idx={i} segs={segs} />)}
      <Legend />
      <svg width={4096} height={2168} style={{ position: 'absolute', left: 0, top: 0, pointerEvents: 'none' }}>
        <text x={146} y={50.9} fontSize={43} fontFamily={FONT} fill="#000">eras: GO_new | lon: 300.5</text>
        {FACETS.map((name, i) => {
          const x = colX(i % 5);
          const y = rowY(Math.floor(i / 5));
          return (
            <g key={name}>
              <rect x={x} y={y} width={PANEL_W} height={STRIP_H} fill="#D9D9D9" stroke={DARK} strokeWidth={LINE_W} />
              <text x={x + PANEL_W / 2} y={y + 40} textAnchor="middle" fontSize={29.5} fontFamily={FONT} fill="#1A1A1A">{name}</text>
              <rect x={x} y={y + STRIP_H} width={PANEL_W} height={PANEL_H} fill="none" stroke={DARK} strokeWidth={LINE_W} />
            </g>
          );
        })}
        <text transform="translate(45,1100) rotate(-90)" textAnchor="middle" fontSize={36.8} fontFamily={FONT} fill="#000">depth</text>
        <text x={2015} y={2145} textAnchor="middle" fontSize={36.8} fontFamily={FONT} fill="#000">lat</text>
        <text x={3940} y={629.5} fontSize={36.8} fontFamily={FONT} fill="#000">Cant</text>
      </svg>
    </div>
  );
}
